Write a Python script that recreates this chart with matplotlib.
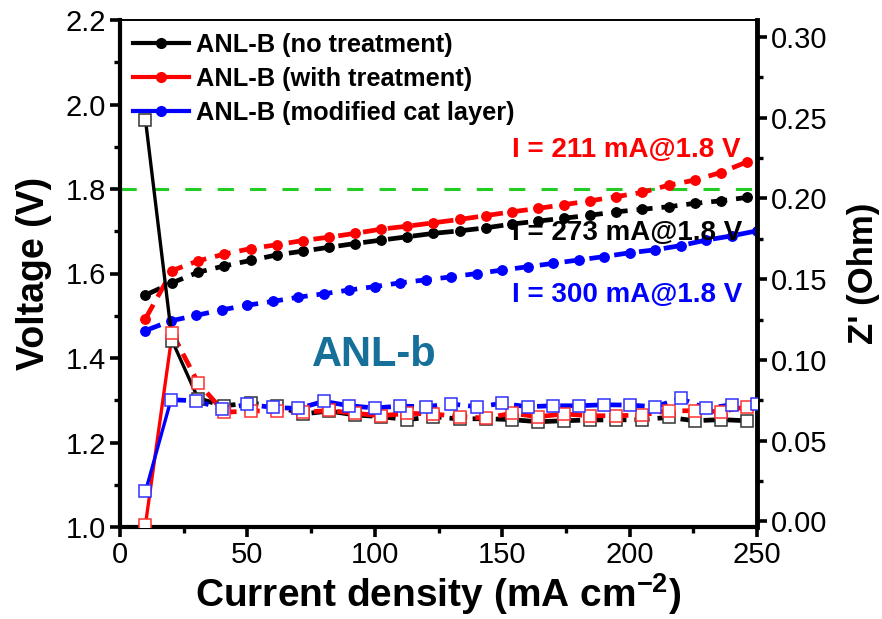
import matplotlib
matplotlib.use("Agg")
import matplotlib.pyplot as plt
from matplotlib.lines import Line2D

plt.rcParams['font.family'] = ['Liberation Sans', 'DejaVu Sans']
plt.rcParams['mathtext.fontset'] = 'custom'
plt.rcParams['mathtext.rm'] = 'Liberation Sans:bold'
plt.rcParams['mathtext.default'] = 'rm'

# polarization curves (left axis)
j_a = [10, 20.5, 30.7, 41, 51.3, 61.5, 71.8, 82, 92.3, 102.5, 112.8, 123,
       133.3, 143.5, 153.8, 164, 174.3, 184.5, 194.8, 205, 215.3, 225.5, 235.8, 246]
v_none = [1.549, 1.578, 1.603, 1.618, 1.631, 1.644, 1.653, 1.662, 1.671, 1.679, 1.687, 1.695,
          1.701, 1.708, 1.717, 1.724, 1.731, 1.738, 1.746, 1.752, 1.758, 1.766, 1.772, 1.780]
v_treat = [1.493, 1.607, 1.630, 1.646, 1.659, 1.668, 1.678, 1.686, 1.695, 1.705, 1.712, 1.720,
           1.728, 1.737, 1.746, 1.754, 1.763, 1.772, 1.782, 1.792, 1.809, 1.821, 1.839, 1.864]
j_b = [10, 20, 30, 40, 50, 60, 70, 80, 90, 100, 110, 120, 130,
       140, 150, 160, 170, 180, 190, 200, 210, 220, 230, 240, 250]
v_mod = [1.465, 1.488, 1.501, 1.514, 1.525, 1.534, 1.544, 1.552, 1.561, 1.569, 1.578, 1.585, 1.592,
         1.600, 1.608, 1.616, 1.624, 1.632, 1.640, 1.649, 1.656, 1.666, 1.679, 1.689, 1.701]

# Z' (right axis)
z_none = [0.2486, 0.1117, 0.0759, 0.0716, 0.0733, 0.0712, 0.0665, 0.0683, 0.0659, 0.0648, 0.0630, 0.0648,
          0.0634, 0.0636, 0.0630, 0.0617, 0.0623, 0.0628, 0.0628, 0.0630, 0.0644, 0.0623, 0.0630, 0.0623]
z_treat = [-0.002, 0.1165, 0.0856, 0.0675, 0.0685, 0.0681, 0.0675, 0.0687, 0.0669, 0.0654, 0.0669, 0.0665,
           0.0648, 0.0640, 0.0669, 0.0648, 0.0665, 0.0654, 0.0654, 0.0659, 0.0685, 0.0685, 0.0679, 0.0710]
z_mod = [0.0185, 0.0753, 0.0747, 0.0696, 0.0724, 0.0706, 0.0699, 0.0743, 0.0716, 0.0702, 0.0714, 0.0710, 0.0727,
         0.0710, 0.0730, 0.0710, 0.0716, 0.0716, 0.0722, 0.0720, 0.0710, 0.0761, 0.0699, 0.0722, 0.0727]

labels = ['ANL-B (no treatment)', 'ANL-B (with treatment)', 'ANL-B (modified cat layer)']
colors = ['black', 'red', 'blue']
notes = ['I = 273 mA@1.8 V', 'I = 211 mA@1.8 V', 'I = 300 mA@1.8 V']
note_y = [1.696, 1.892, 1.549]

fig = plt.figure(figsize=(8.82, 6.19), dpi=100)
ax = fig.add_axes([120/882, 92/619, 637/882, 507/619])

ax.axhline(1.8, color='#22cc22', lw=2.2, dashes=(5.3, 5.3), zorder=1)

pol = [(j_a, v_none), (j_a, v_treat), (j_b, v_mod)]
for (x, v), c in zip(pol, colors):
    ax.plot(x, v, color=c, lw=3.4, dashes=(3.4, 1.9), marker='o', ms=6.8, zorder=3)

ax.set_xlim(0, 250)
ax.set_ylim(1.0, 2.2)
ax.set_xticks(range(0, 251, 50))
ax.set_xticks(range(25, 250, 50), minor=True)
ax.set_yticks([1.0, 1.2, 1.4, 1.6, 1.8, 2.0, 2.2])
ax.set_yticks([1.1, 1.3, 1.5, 1.7, 1.9, 2.1], minor=True)
ax.set_yticklabels(['1.0', '1.2', '1.4', '1.6', '1.8', '2.0', '2.2'])
ax.tick_params(which='major', direction='out', length=7, width=2.6, labelsize=21, pad=3)
ax.tick_params(which='minor', direction='out', length=4, width=2.4)
for s in ['left', 'bottom']:
    ax.spines[s].set_linewidth(3)
ax.spines['top'].set_linewidth(1.2)
ax.spines['right'].set_visible(False)

ax.set_xlabel('Current density (mA cm$^{-2}$)', fontsize=28, fontweight='bold', labelpad=2)
ax.set_ylabel('Voltage (V)', fontsize=27, fontweight='bold', labelpad=10)

for c, t, y in zip(colors, notes, note_y):
    ax.text(154, y, t, color=c, fontsize=20, fontweight='bold', va='center', ha='left', zorder=5)
ax.text(75.5, 1.407, 'ANL-b', color='#17709a', fontsize=30, fontweight='bold', va='center', ha='left')

handles = [Line2D([], [], color=c, lw=3, marker='o', ms=7) for c in colors]
ax.legend(handles, labels, loc='upper left', frameon=False, prop={'size': 18.3, 'weight': 'bold'},
          handlelength=2.2, handletextpad=0.3, labelspacing=0.4, borderaxespad=0.3, borderpad=0.2)

# impedance on the twin axis
ax2 = ax.twinx()
ax2.set_ylim(-0.0035, 0.3105)
imp = [(j_a, z_none, 2), (j_a, z_treat, 1), (j_b, z_mod, 1)]
edge = ['#333333', '#ff3030', '#3030ff']
for (x, z, n), c, e in zip(imp, colors, edge):
    ax2.plot(x[:n + 1], z[:n + 1], color=c, lw=2.4, zorder=3)
    ax2.plot(x[n:], z[n:], color=c, lw=3.4, dashes=(3.2, 1.7), zorder=3)
    ax2.plot(x, z, ls='none', marker='s', ms=8, mfc='white', mec=e, mew=1.1, zorder=4)

ax2.set_yticks([0.0, 0.05, 0.10, 0.15, 0.20, 0.25, 0.30])
ax2.set_yticks([0.025, 0.075, 0.125, 0.175, 0.225, 0.275], minor=True)
ax2.set_yticklabels(['0.00', '0.05', '0.10', '0.15', '0.20', '0.25', '0.30'])
ax2.tick_params(which='major', direction='out', length=7, width=2.6, labelsize=21, pad=3)
ax2.tick_params(which='minor', direction='out', length=4, width=2.4)
ax2.spines['right'].set_linewidth(3.5)
ax2.spines['top'].set_linewidth(1.2)
for s in ['left', 'bottom']:
    ax2.spines[s].set_visible(False)
ax2.set_ylabel("Z' (Ohm)", fontsize=25, fontweight='bold', labelpad=14)

fig.savefig('out.png', dpi=100)
